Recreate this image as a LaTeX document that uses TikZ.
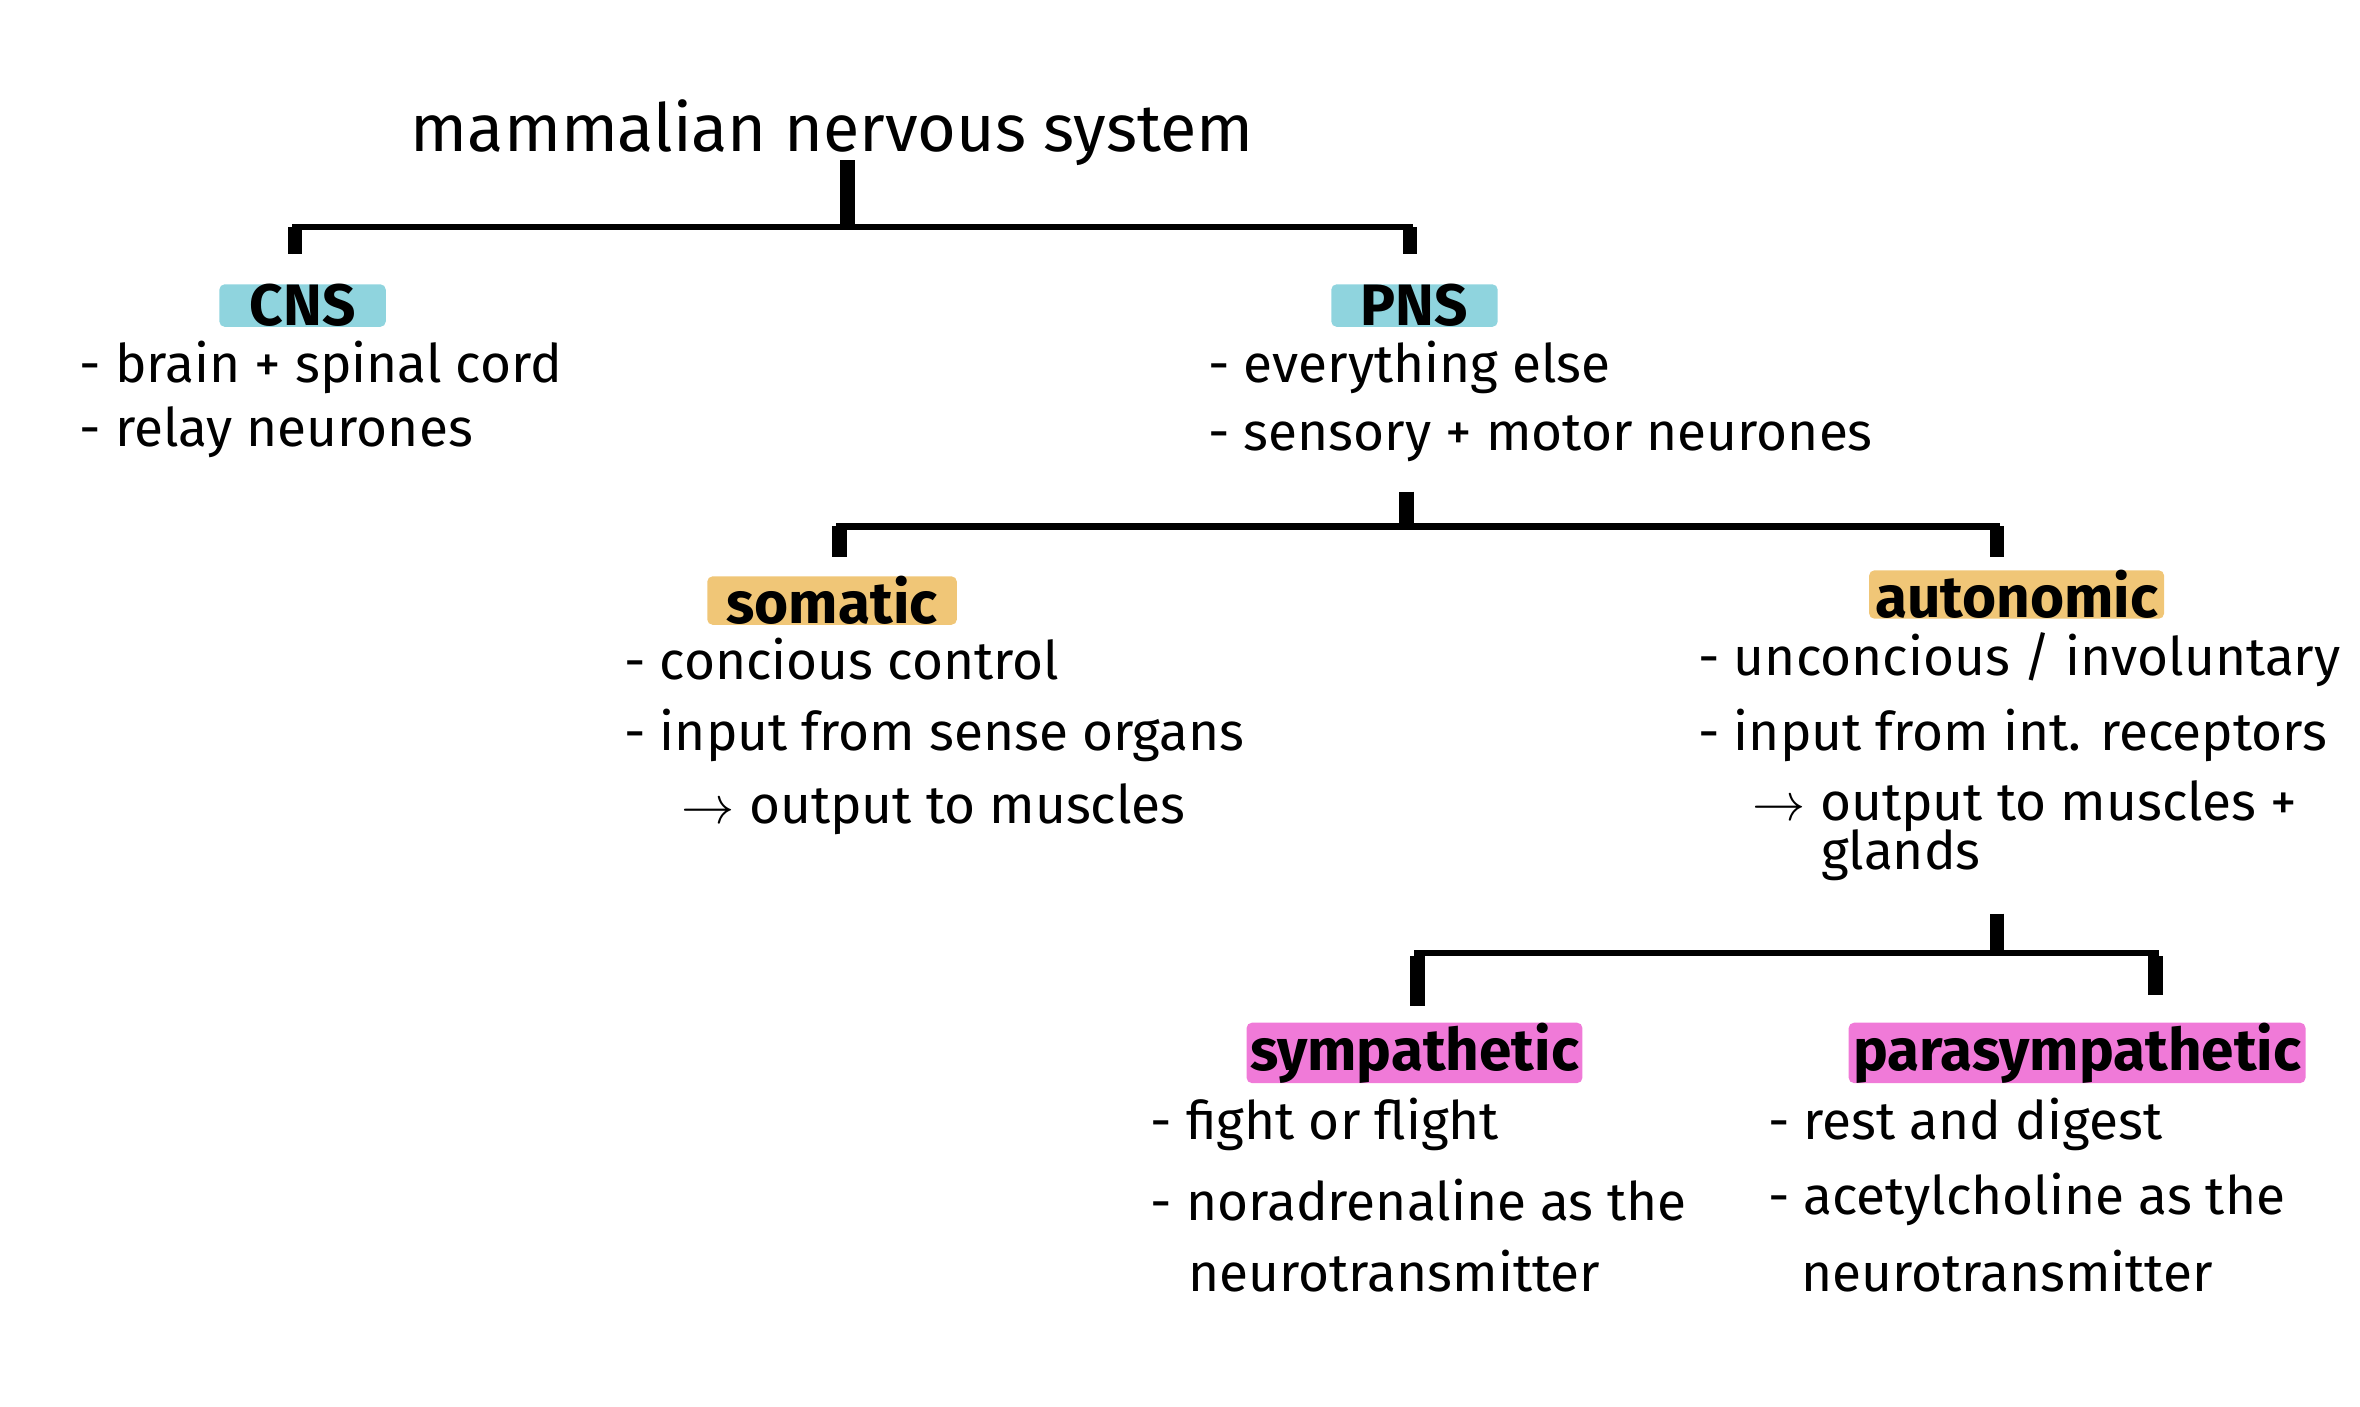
\documentclass[tikz,border=0pt]{standalone}
\usepackage{fontspec}
\setmainfont{Fira Sans}
\definecolor{cnscyan}{HTML}{8FD4DE}
\definecolor{somorange}{HTML}{F0C677}
\definecolor{sympink}{HTML}{F07AD8}
\begin{document}
\begin{tikzpicture}[x=0.1mm,y=-0.1mm,
    title/.style ={font=\fontsize{12.5}{15}\selectfont, inner sep=0pt},
    tag/.style ={rectangle, rounded corners=1pt, font=\fontsize{11}{13}\selectfont\bfseries, inner sep=0pt, minimum height=2.8mm},
    item/.style ={anchor=west, font=\fontsize{10}{12}\selectfont, inner sep=0pt},
    bar/.style ={draw, line width=1.2pt},
    stub/.style ={draw, line width=2.8pt}]
    \useasboundingbox (0,0) rectangle (1560,930);
    % heading and first split
    \node [title] (ttl) at (550,88) {mammalian nervous system};
    \node [tag, fill=cnscyan, minimum width=11mm] (cns) at (200,202) {CNS};
    \node [tag, fill=cnscyan, minimum width=11mm] (pns) at (935,202) {PNS};
    \node [item] (c1) at (52,243) {- brain + spinal cord};
    \node [item] (c2) at (52,286) {- relay neurones};
    \node [item] (p1) at (798,243) {- everything else};
    \node [item] (p2) at (798,290) {- sensory + motor neurones};
    % second split
    \node [tag, fill=somorange, minimum width=16.5mm] (som) at (550,397) {somatic};
    \node [tag, fill=somorange, minimum width=19.5mm] (aut) at (1333,393) {autonomic};
    \node [item] (s1) at (412,436) {- concious control};
    \node [item] (s2) at (412,486) {- input from sense organs};
    \node [item] (s3) at (450,535) {$\rightarrow$ output to muscles};
    \node [item] (a1) at (1122,436) {- unconcious / involuntary};
    \node [item] (a2) at (1122,486) {- input from int. receptors};
    \node [item] (a3) at (1158,533) {$\rightarrow$ output to muscles +};
    \node [item] (a4) at (1203,565) {glands};
    % third split
    \node [tag, fill=sympink, minimum width=22.2mm] (sym) at (935,696) {sympathetic};
    \node [tag, fill=sympink, minimum width=30.2mm] (par) at (1373,696) {parasympathetic};
    \node [item] (y1) at (760,743) {- fight or flight};
    \node [item] (y2) at (760,793) {- noradrenaline as the};
    \node [item] (y3) at (785,840) {neurotransmitter};
    \node [item] (r1) at (1168,743) {- rest and digest};
    \node [item] (r2) at (1168,793) {- acetylcholine as the};
    \node [item] (r3) at (1190,840) {neurotransmitter};
    % branching brackets
    \coordinate (j1) at (560,150);
    \coordinate (j2) at (930,348);
    \coordinate (j3) at (1320,630);
    \path [stub] (560,106) -- (j1);
    \path [bar] (195,168) |- (j1) -| (932,168);
    \path [stub] (195,150) -- (195,168) (932,150) -- (932,168);
    \path [stub] (930,325) -- (j2);
    \path [bar] (555,368) |- (j2) -| (1320,368);
    \path [stub] (555,348) -- (555,368) (1320,348) -- (1320,368);
    \path [stub] (1320,604) -- (j3);
    \path [bar] (937,665) |- (j3) -| (1425,658);
    \path [stub] (937,632) -- (937,665) (1425,632) -- (1425,658);
\end{tikzpicture}
\end{document}
